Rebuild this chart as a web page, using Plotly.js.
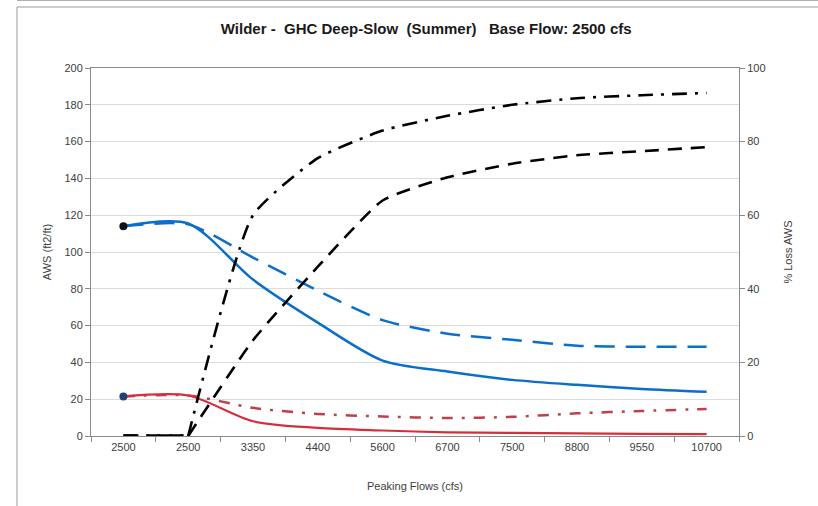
<!DOCTYPE html>
<html>
<head>
<meta charset="utf-8">
<script src="https://cdn.plot.ly/plotly-3.0.1.min.js"></script>
<style>
html,body{margin:0;padding:0;background:#fff;}
#chart{width:818px;height:506px;}
</style>
</head>
<body>
<div id="chart"></div>
<script>
// Peaking flow categories (x axis labels)
const categories = ['2500','2500','3350','4400','5600','6700','7500','8800','9550','10700'];
// AWS (ft2/ft), left axis
const awsBlueSolid  = [114, 115.5, 85, 61.6, 41, 35, 30.5, 27.8, 25.6, 24];
const awsBlueDashed = [114, 115, 97, 79, 63, 55.6, 52.3, 49, 48.5, 48.5];
const awsRedSolid   = [21.5, 22, 8, 4.4, 3, 2, 1.7, 1.4, 1.2, 1];
const awsRedDashDot = [21.5, 22, 15.3, 12, 10.6, 9.8, 10.4, 12.3, 13.6, 14.7];
// % Loss AWS, right axis
const lossDashDot = [0, 0, 60, 75.5, 83, 87, 90, 91.8, 92.6, 93.2];
const lossDashed  = [0, 0, 26, 46, 64, 70.3, 74, 76.3, 77.4, 78.5];

const xs = categories.map((c, i) => i);
const FONT = '"Liberation Sans", Arial, sans-serif';
const BLUE = '#0a6fc9';
const RED = '#d42f3c';
const REDDARK = '#c0404a';

const blackDashDot = {color: '#000', width: 2.6, dash: '15px,8px,3px,8px'};
const blackDashed = {color: '#000', width: 2.6, dash: '14px,9px'};

const traces = [
  {x: xs, y: awsBlueDashed, yaxis: 'y', mode: 'lines',
   line: {color: BLUE, width: 2.5, dash: '20px,11px', shape: 'spline', smoothing: 0.7}},
  {x: xs, y: awsBlueSolid, yaxis: 'y', mode: 'lines',
   line: {color: BLUE, width: 2.5, shape: 'spline', smoothing: 0.8}},
  {x: xs, y: awsRedDashDot, yaxis: 'y', mode: 'lines',
   line: {color: REDDARK, width: 2.5, dash: '11px,9px,3px,9px', shape: 'spline', smoothing: 0.8}},
  {x: xs, y: awsRedSolid, yaxis: 'y', mode: 'lines',
   line: {color: RED, width: 2.2, shape: 'spline', smoothing: 0.8}},
  {x: [xs[0]], y: [awsBlueSolid[0]], yaxis: 'y', mode: 'markers',
   marker: {color: '#111', size: 8}},
  {x: [xs[0]], y: [awsRedSolid[0]], yaxis: 'y', mode: 'markers',
   marker: {color: '#24406e', size: 8}},
  // flat part at zero (first two categories), then the smoothed rise
  {x: xs.slice(0, 2), y: lossDashed.slice(0, 2), yaxis: 'y2', mode: 'lines',
   line: Object.assign({}, blackDashed, {width: 3.4})},
  {x: xs.slice(1), y: lossDashed.slice(1), yaxis: 'y2', mode: 'lines',
   line: Object.assign({}, blackDashed, {shape: 'spline', smoothing: 0.5})},
  {x: xs.slice(0, 2), y: lossDashDot.slice(0, 2), yaxis: 'y2', mode: 'lines',
   line: Object.assign({}, blackDashDot, {width: 3.4})},
  {x: xs.slice(1), y: lossDashDot.slice(1), yaxis: 'y2', mode: 'lines',
   line: Object.assign({}, blackDashDot, {shape: 'spline', smoothing: 0.5})}
];

// plot area: x 91..739, y 68..436
const L = 91, R = 739, T = 68, B = 436;
const px = v => (v - L) / (R - L);
const py = v => (B - v) / (B - T);

const layout = {
  width: 818, height: 506,
  margin: {l: L, r: 818 - R, t: T, b: 506 - B, pad: 0},
  paper_bgcolor: '#fff', plot_bgcolor: '#fff',
  showlegend: false,
  font: {family: FONT, color: '#404040', size: 11},
  title: {
    text: 'Wilder -\u00A0 GHC Deep-Slow\u00A0 (Summer)\u00A0\u00A0 Base Flow: 2500 cfs',
    xref: 'container', x: 0.521, xanchor: 'center',
    yref: 'container', y: 1 - 29 / 506, yanchor: 'middle',
    font: {family: FONT, size: 15, color: '#1a1a1a', weight: 700}
  },
  xaxis: {
    range: [-0.5, xs.length - 0.5],
    tickmode: 'array', tickvals: xs, ticktext: categories,
    ticks: '', showgrid: false, zeroline: false,
    showline: true, linecolor: '#8a8a8a', linewidth: 1.3, mirror: true,
    tickfont: {family: FONT, size: 11, color: '#404040'},
    minor: {tickmode: 'linear', tick0: -0.5, dtick: 1, ticks: 'outside', ticklen: 5,
            tickcolor: '#8a8a8a', showgrid: false},
    title: {text: 'Peaking Flows (cfs)', font: {family: FONT, size: 11, color: '#404040'}, standoff: 30}
  },
  yaxis: {
    range: [0, 200], dtick: 20, tick0: 0,
    ticks: 'outside', ticklen: 5, tickcolor: '#8a8a8a',
    showline: true, linecolor: '#8a8a8a', linewidth: 1,
    showgrid: true, gridcolor: '#dcdcdc', gridwidth: 1, zeroline: false,
    tickfont: {family: FONT, size: 11, color: '#404040'},
    title: {text: 'AWS (ft2/ft)', font: {family: FONT, size: 11, color: '#404040'}, standoff: 10}
  },
  yaxis2: {
    overlaying: 'y', side: 'right',
    range: [0, 100], dtick: 20, tick0: 0,
    ticks: 'outside', ticklen: 5, tickcolor: '#8a8a8a',
    showline: true, linecolor: '#8a8a8a', linewidth: 1,
    showgrid: false, zeroline: false,
    tickfont: {family: FONT, size: 11, color: '#404040'},
    title: {text: '% Loss AWS', font: {family: FONT, size: 11, color: '#404040'}, standoff: 19}
  },
  shapes: [
    {type: 'line', xref: 'paper', yref: 'paper', x0: px(17), x1: px(818), y0: py(0.5), y1: py(0.5),
     line: {color: '#b0b0b0', width: 1}},
    {type: 'line', xref: 'paper', yref: 'paper', x0: px(17), x1: px(818), y0: py(7), y1: py(7),
     line: {color: '#9a9a9a', width: 1}},
    {type: 'line', xref: 'paper', yref: 'paper', x0: px(17), x1: px(17), y0: py(7), y1: py(506),
     line: {color: '#9a9a9a', width: 1}}
  ]
};

Plotly.newPlot('chart', traces, layout, {staticPlot: true, displayModeBar: false});
</script>
</body>
</html>
